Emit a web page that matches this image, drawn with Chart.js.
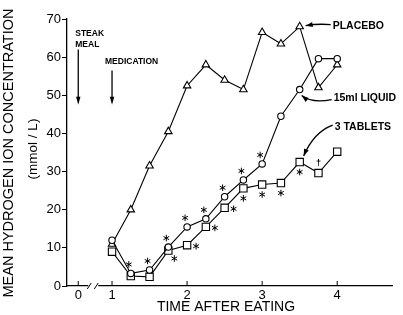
<!DOCTYPE html>
<html>
<head>
<meta charset="utf-8">
<script src="https://cdn.jsdelivr.net/npm/chart.js"></script>
<style>
html, body { margin: 0; padding: 0; background: #fff; }
#wrap { width: 403px; height: 315px; }
</style>
</head>
<body>
<div id="wrap"><canvas id="acid"></canvas></div>
<script>
// hours after eating (axis is broken between 0 and 1)
const times = [1, 1.25, 1.5, 1.75, 2, 2.25, 2.5, 2.75, 3, 3.25, 3.5, 3.75, 4];
const placebo = [11, 20, 31.5, 40.5, 52.5, 58, 54, 51.5, 66.5, 63.5, 68, 52, 58];
const liquid = [12, 3.3, 4.2, 10.2, 15.5, 17.6, 23.4, 27.8, 32, 44.5, 51.5, 59.6, 59.6];
const tablets = [9, 2.6, 2.4, 9.3, 10.7, 15.5, 20.5, 25.6, 26.6, 27, 32.5, 29.6, 35.2];

// significance marks printed next to the points
const liquidSig = ['', '*', '*', '*', '*', '*', '*', '*', '*', '', '', '', ''];
const tabletSig = ['', '', '', '*', '*', '*', '*', '*', '*', '*', '*', '†', ''];
const tabletSigSide = ['', '', '', 'se', 'e', 'e', 'e', 's', 's', 's', 's', 'n', ''];

const xTickHours = [0, 1, 2, 3, 4];
const xTickLabels = ['0', '1', '2', '3', '4'];
const yTicks = [0, 10, 20, 30, 40, 50, 60, 70];

const eventHours = [0, 1];
const eventLabels = [['STEAK', 'MEAL'], ['MEDICATION']];

const FONT = '"Liberation Sans", Arial, Helvetica, sans-serif';
const ZERO_AT = 0.55; // where hour 0 sits on the compressed axis
const hourPos = h => (h === 0 ? ZERO_AT : h);

function pts(vals) {
  return times.map((t, i) => ({ x: t, y: vals[i] }));
}

function line(ctx, x0, y0, x1, y1) {
  ctx.beginPath(); ctx.moveTo(x0, y0); ctx.lineTo(x1, y1); ctx.stroke();
}

function arrowHead(ctx, x, y, ang, len, half) {
  ctx.beginPath();
  ctx.moveTo(x, y);
  ctx.lineTo(x - len * Math.cos(ang) + half * Math.sin(ang), y - len * Math.sin(ang) - half * Math.cos(ang));
  ctx.lineTo(x - len * Math.cos(ang) - half * Math.sin(ang), y - len * Math.sin(ang) + half * Math.cos(ang));
  ctx.closePath();
  ctx.fill();
}

function curveArrow(ctx, x0, y0, cx, cy, x1, y1) {
  ctx.beginPath(); ctx.moveTo(x0, y0); ctx.quadraticCurveTo(cx, cy, x1, y1); ctx.stroke();
  arrowHead(ctx, x1, y1, Math.atan2(y1 - cy, x1 - cx), 7, 2.5);
}

function asterisk(ctx, x, y, r) {
  for (let k = 0; k < 3; k++) {
    const a = Math.PI / 2 + k * Math.PI / 3;
    line(ctx, x - r * Math.cos(a), y - r * Math.sin(a), x + r * Math.cos(a), y + r * Math.sin(a));
  }
}

const overlay = {
  id: 'overlay',
  afterDraw(chart) {
    const { ctx, chartArea: a } = chart;
    const x = chart.scales.x, y = chart.scales.y;
    const px = h => x.getPixelForValue(hourPos(h));
    ctx.save();
    ctx.strokeStyle = '#000';
    ctx.fillStyle = '#000';
    ctx.lineWidth = 1;

    // inward ticks on the time axis
    xTickHours.forEach(h => line(ctx, px(h), a.bottom, px(h), a.bottom - 5));

    // axis break
    const b = px(0);
    ctx.fillStyle = '#fff';
    ctx.fillRect(b + 10, a.bottom - 2, 10, 4);
    ctx.fillStyle = '#000';
    line(ctx, b + 9, a.bottom + 3, b + 13, a.bottom - 3);
    line(ctx, b + 16, a.bottom + 3, b + 20, a.bottom - 3);

    // significance marks
    const m0 = chart.getDatasetMeta(0).data;
    const m2 = chart.getDatasetMeta(2).data;
    liquidSig.forEach((s, i) => {
      if (s) asterisk(ctx, m0[i].x - 2, m0[i].y - 9, 3.3);
    });
    const off = { e: [9, 1], se: [6, 8], s: [0, 10], n: [0, -10] };
    tabletSig.forEach((s, i) => {
      if (!s) return;
      const o = off[tabletSigSide[i]];
      if (s === '*') asterisk(ctx, m2[i].x + o[0], m2[i].y + o[1], 3.3);
      else {
        ctx.font = 'bold 9px ' + FONT;
        ctx.textAlign = 'center'; ctx.textBaseline = 'middle';
        ctx.fillText(s, m2[i].x + o[0], m2[i].y + o[1]);
      }
    });

    // event arrows
    ctx.font = 'bold 8.5px ' + FONT;
    ctx.textAlign = 'left'; ctx.textBaseline = 'middle';
    ctx.lineWidth = 1.3;
    const starts = [62, 56.5];
    eventHours.forEach((h, i) => {
      const xp = px(h);
      const tip = y.getPixelForValue(47.5);
      line(ctx, xp, y.getPixelForValue(starts[i]), xp, tip - 5);
      arrowHead(ctx, xp, tip, Math.PI / 2, 8, 2.2);
    });
    ctx.fillText(eventLabels[0][0], px(0) - 3, y.getPixelForValue(66.2));
    ctx.fillText(eventLabels[0][1], px(0) - 3, y.getPixelForValue(63.3));
    ctx.fillText(eventLabels[1][0], px(1) - 7, y.getPixelForValue(58.8));

    // series call-outs
    const m1 = chart.getDatasetMeta(1).data;
    ctx.font = 'bold 10.5px ' + FONT;
    ctx.lineWidth = 1.4;
    const p = m1[10], l = m0[10], t = m2[10];
    curveArrow(ctx, p.x + 31, p.y - 2, p.x + 18, p.y - 3, p.x + 6, p.y - 1);
    ctx.fillText(chart.data.datasets[1].label, p.x + 33, p.y - 1);
    curveArrow(ctx, l.x + 32, l.y + 10, l.x + 12, l.y + 14, l.x + 2, l.y + 6);
    ctx.fillText(chart.data.datasets[0].label, l.x + 34, l.y + 9);
    curveArrow(ctx, t.x + 33, t.y - 37, t.x + 14, t.y - 30, t.x + 4, t.y - 6);
    ctx.fillText(chart.data.datasets[2].label, t.x + 35, t.y - 35);

    // axis titles
    ctx.font = '14px ' + FONT;
    ctx.textAlign = 'center'; ctx.textBaseline = 'middle';
    ctx.fillText('TIME AFTER EATING', 226, 307);
    ctx.translate(9, 153);
    ctx.rotate(-Math.PI / 2);
    ctx.font = '14.5px ' + FONT;
    ctx.fillText('MEAN HYDROGEN ION CONCENTRATION', 0, 0);
    ctx.font = '13.5px ' + FONT;
    ctx.fillText('(mmol / L)', 4, 24);
    ctx.restore();
  }
};

const common = {
  borderColor: '#000',
  borderWidth: 1.1,
  pointBackgroundColor: '#fff',
  pointBorderColor: '#000',
  pointBorderWidth: 1.1,
  tension: 0,
  fill: false
};

new Chart('acid', {
  type: 'line',
  data: {
    datasets: [
      Object.assign({ label: '15ml LIQUID', data: pts(liquid), pointStyle: 'circle', pointRadius: 3.2 }, common),
      Object.assign({ label: 'PLACEBO', data: pts(placebo), pointStyle: 'triangle', pointRadius: 4.3 }, common),
      Object.assign({ label: '3 TABLETS', data: pts(tablets), pointStyle: 'rect', pointRadius: 5.2 }, common)
    ]
  },
  options: {
    responsive: true,
    maintainAspectRatio: false,
    animation: false,
    events: [],
    layout: { padding: { top: 19, right: 11, left: 0, bottom: 0 } },
    plugins: { legend: { display: false }, tooltip: { enabled: false } },
    scales: {
      x: {
        type: 'linear',
        min: 0.4,
        max: 4.73,
        afterBuildTicks: s => { s.ticks = xTickHours.map(h => ({ value: hourPos(h) })); },
        afterFit: s => { s.height = 29; },
        grid: { display: false, drawTicks: false },
        border: { color: '#000', width: 1.3 },
        ticks: {
          autoSkip: false,
          maxRotation: 0,
          padding: 2,
          color: '#000',
          font: { family: FONT, size: 13 },
          callback: (v, i) => xTickLabels[i]
        }
      },
      y: {
        min: 0,
        max: 70,
        afterBuildTicks: s => { s.ticks = yTicks.map(v => ({ value: v })); },
        afterFit: s => { s.width = 67; },
        grid: { drawOnChartArea: false, tickLength: 5, color: '#000' },
        border: { color: '#000', width: 1.3 },
        ticks: {
          padding: 1,
          color: '#000',
          font: { family: FONT, size: 13 }
        }
      }
    }
  },
  plugins: [overlay]
});
</script>
</body>
</html>
